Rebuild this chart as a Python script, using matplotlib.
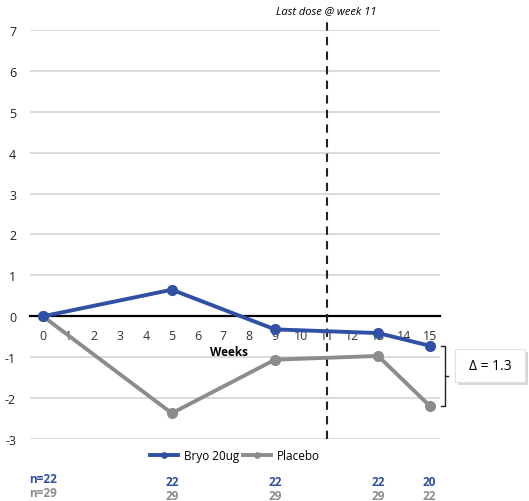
import matplotlib.pyplot as plt
from matplotlib.patches import FancyBboxPatch
import matplotlib.transforms as mtransforms

plt.rcParams['font.family'] = ['Open Sans', 'DejaVu Sans']
plt.rcParams['axes.unicode_minus'] = False

weeks = [0, 5, 9, 13, 15]
bryo = [0, 0.65, -0.32, -0.41, -0.72]
placebo = [0, -2.37, -1.06, -0.97, -2.19]
n_bryo = ['n=22', '22', '22', '22', '20']
n_placebo = ['n=29', '29', '29', '29', '22']
blue = '#2f50a3'
gray = '#8c8c8c'

W, H = 529, 502
fig = plt.figure(figsize=(W / 100, H / 100), dpi=100)
ax = fig.add_axes([30 / W, (H - 440) / H, 410 / W, 409 / H])
ax.set_xlim(-0.5, 15.4)
ax.set_ylim(-3, 7)

for y in range(-3, 8):
    if y != 0:
        ax.axhline(y, color='#d4d4d4', lw=1.2, zorder=1)

for s in ['top', 'right', 'left']:
    ax.spines[s].set_visible(False)
ax.spines['bottom'].set_position(('data', 0))
ax.spines['bottom'].set_linewidth(1.6)
ax.spines['bottom'].set_zorder(2)

ax.set_xticks(range(16))
ax.tick_params(axis='x', length=0, labelsize=9, labelcolor='#333333', pad=9)
ax.set_yticks(range(-3, 8))
ax.tick_params(axis='y', length=0, labelsize=9, labelcolor='#222222', pad=10)
ax.text(7.2, -0.87, 'Weeks', ha='center', va='center', fontsize=8.5, fontweight='bold')

ax.plot([11, 11], [-3, 7.25], color='#222222', ls=(0, (4, 3)), lw=1.5, clip_on=False, zorder=3)
ax.text(11, 7.35, 'Last dose @ week 11', ha='center', va='bottom', fontsize=8, style='italic')

ax.plot(weeks, bryo, color=blue, lw=2.8, marker='o', ms=7, label='Bryo 20ug', zorder=5)
ax.plot(weeks, placebo, color=gray, lw=2.8, marker='o', ms=7, label='Placebo', zorder=4)

leg = ax.legend(loc='center', bbox_to_anchor=(235 / W, (H - 457) / H), bbox_transform=fig.transFigure,
                ncol=2, frameon=False, fontsize=8.5, handlelength=2.4, columnspacing=0.3,
                handletextpad=0.5, markerscale=0.55)

# n per visit
tr = mtransforms.blended_transform_factory(ax.transData, fig.transFigure)
for i, (w, nb, npl) in enumerate(zip(weeks, n_bryo, n_placebo)):
    off = 0 if i == 0 else 3
    ax.text(w, (H - 480 - off) / H, nb, transform=tr, ha='center', va='center', fontsize=8.5,
            fontweight='bold', color=blue)
    ax.text(w, (H - 494 - off) / H, npl, transform=tr, ha='center', va='center', fontsize=8.5,
            fontweight='bold', color=gray)

# delta bracket
bx = 15.6
ax.plot([bx - 0.15, bx, bx, bx - 0.15], [bryo[-1], bryo[-1], placebo[-1], placebo[-1]],
        color='#222222', lw=1, clip_on=False)
mid = (bryo[-1] + placebo[-1]) / 2
ax.plot([bx, bx + 0.12], [mid, mid], color='#222222', lw=1, clip_on=False)

shadow = FancyBboxPatch((458 / W, (H - 386) / H), 70 / W, 33 / H, boxstyle='square,pad=0',
                        transform=fig.transFigure, fc='#bdbdbd', ec='none', alpha=0.6)
box = FancyBboxPatch((455 / W, (H - 383) / H), 70 / W, 33 / H, boxstyle='square,pad=0',
                     transform=fig.transFigure, fc='white', ec='#e0e0e0', lw=0.8)
fig.patches.extend([shadow, box])
fig.text(490 / W, (H - 367) / H, '\u0394 = 1.3', ha='center', va='center', fontsize=10)

fig.savefig('out.png', dpi=100)
